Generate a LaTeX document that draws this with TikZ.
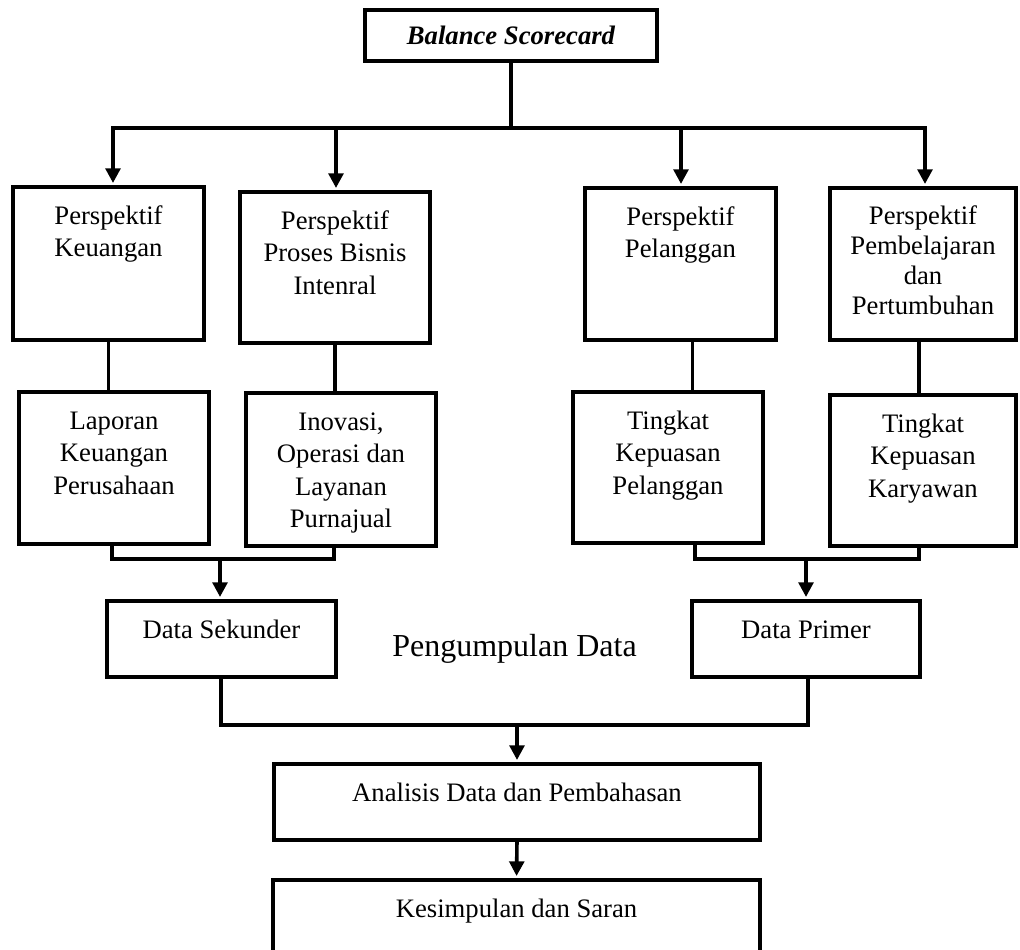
\documentclass[tikz,border=0pt]{standalone}
\usepackage{fontspec}
\setmainfont{Liberation Serif}
\usetikzlibrary{arrows.meta,fit}
\begin{document}
\begin{tikzpicture}[x=0.75pt,y=-0.75pt,
  box/.style={draw, line width=2.7pt, rectangle, inner sep=0pt, outer sep=0pt},
  txt/.style={anchor=north, align=center, inner sep=0pt, font=\fontsize{20}{24.4}\selectfont},
  txtb/.style={anchor=north, align=center, inner sep=0pt, font=\fontsize{20}{22.5}\selectfont},
  conn/.style={line width=2.7pt, line join=miter},
  arr/.style={line width=2.7pt, -{Triangle[width=11pt,length=11pt]}, shorten >=3pt}]
\useasboundingbox (0,0) rectangle (1020,949);
\clip (0,0) rectangle (1020,949);

% top box
\node[box, fit={(365,10) (657,61)}] (bs) {};
\node[inner sep=0pt, font=\fontsize{20}{24.4}\selectfont\bfseries\itshape] (bst) at (bs.center) {Balance Scorecard};

% perspective boxes
\node[box, fit={(13,187) (204,340)}] (p1) {};
\node[box, fit={(240,192) (430,343)}] (p2) {};
\node[box, fit={(585,188) (776,340)}] (p3) {};
\node[box, fit={(830,188) (1016,340)}] (p4) {};
\node[txt] (p1t) at ([yshift=-10.6pt]p1.north) {\strut Perspektif\\Keuangan};
\node[txt] (p2t) at ([yshift=-10.6pt]p2.north) {\strut Perspektif\\Proses Bisnis\\Intenral};
\node[txt] (p3t) at ([yshift=-10.6pt]p3.north) {\strut Perspektif\\Pelanggan};
\node[txtb] (p4t) at ([yshift=-11.5pt]p4.north) {\strut Perspektif\\Pembelajaran\\dan\\Pertumbuhan};

% indicator boxes
\node[box, fit={(19,392) (209,544)}] (r1) {};
\node[box, fit={(246,393) (436,546)}] (r2) {};
\node[box, fit={(573,392) (763,543)}] (r3) {};
\node[box, fit={(830,395) (1016,546)}] (r4) {};
\node[txt] (r1t) at ([yshift=-10.6pt]r1.north) {\strut Laporan\\Keuangan\\Perusahaan};
\node[txt] (r2t) at ([yshift=-10.6pt]r2.north) {\strut Inovasi,\\Operasi dan\\Layanan\\Purnajual};
\node[txt] (r3t) at ([yshift=-10.6pt]r3.north) {\strut Tingkat\\Kepuasan\\Pelanggan};
\node[txt] (r4t) at ([yshift=-10.6pt]r4.north) {\strut Tingkat\\Kepuasan\\Karyawan};

% data boxes
\node[box, fit={(107,601) (336,677)}] (ds) {};
\node[box, fit={(692,601) (920,677)}] (dp) {};
\node[txt] (dst) at ([yshift=-10.6pt]ds.north) {\strut Data Sekunder};
\node[txt] (dpt) at ([yshift=-10.6pt]dp.north) {\strut Data Primer};
\node[anchor=base, inner sep=0pt, font=\fontsize{24}{29}\selectfont] (pd) at (514.5,656) {Pengumpulan Data};

% analysis and conclusion
\node[box, fit={(274,764) (760,840)}] (an) {};
\node[box, fit={(273,880) (760,1000)}] (ks) {};
\node[txt] (ant) at ([yshift=-10.6pt]an.north) {\strut Analisis Data dan Pembahasan};
\node[txt] (kst) at ([yshift=-10.6pt]ks.north) {\strut Kesimpulan dan Saran};

% coordinates of connector corners
\coordinate (barL) at (113,128);
\coordinate (barR) at (925,128);
\coordinate (barM) at (512,128);
\coordinate (bkL1) at (112,559);
\coordinate (bkL2) at (334,559);
\coordinate (bkLm) at (220,559);
\coordinate (bkR1) at (695,559);
\coordinate (bkR2) at (919,559);
\coordinate (bkRm) at (806,559);
\coordinate (bkB1) at (221,725);
\coordinate (bkB2) at (808,725);
\coordinate (bkBm) at (517,725);
\coordinate (x2) at (336,128);
\coordinate (x3) at (681,128);

% top connectors
\draw[conn] (bs.south) -- (bs.south |- barM);
\draw[conn, line cap=rect] (barL) -- (barR);
\draw[arr] (barL) -- (barL |- p1.north);
\draw[arr] (x2) -- (x2 |- p2.north);
\draw[arr] (x3) -- (x3 |- p3.north);
\draw[arr] (barR) -- (barR |- p4.north);

% perspective to indicator
\draw[conn] (p1.south) -- (p1.south |- r1.north);
\draw[conn] (p2.south) -- (p2.south |- r2.north);
\draw[conn] ([xshift=9pt]p3.south) -- ([xshift=9pt]p3.south |- r3.north);
\draw[conn] ([xshift=-3pt]p4.south) -- ([xshift=-3pt]p4.south |- r4.north);

% brackets to data boxes
\draw[conn] (r1.south -| bkL1) -- (bkL1) -- (bkL2) -- (r2.south -| bkL2);
\draw[arr] (bkLm) -- (bkLm |- ds.north);
\draw[conn] (r3.south -| bkR1) -- (bkR1) -- (bkR2) -- (r4.south -| bkR2);
\draw[arr] (bkRm) -- (bkRm |- dp.north);

% bracket to analysis
\draw[conn] (ds.south -| bkB1) -- (bkB1) -- (bkB2) -- (dp.south -| bkB2);
\draw[arr] (bkBm) -- (bkBm |- an.north);
\draw[arr] (an.south) -- (ks.north);
\end{tikzpicture}
\end{document}
